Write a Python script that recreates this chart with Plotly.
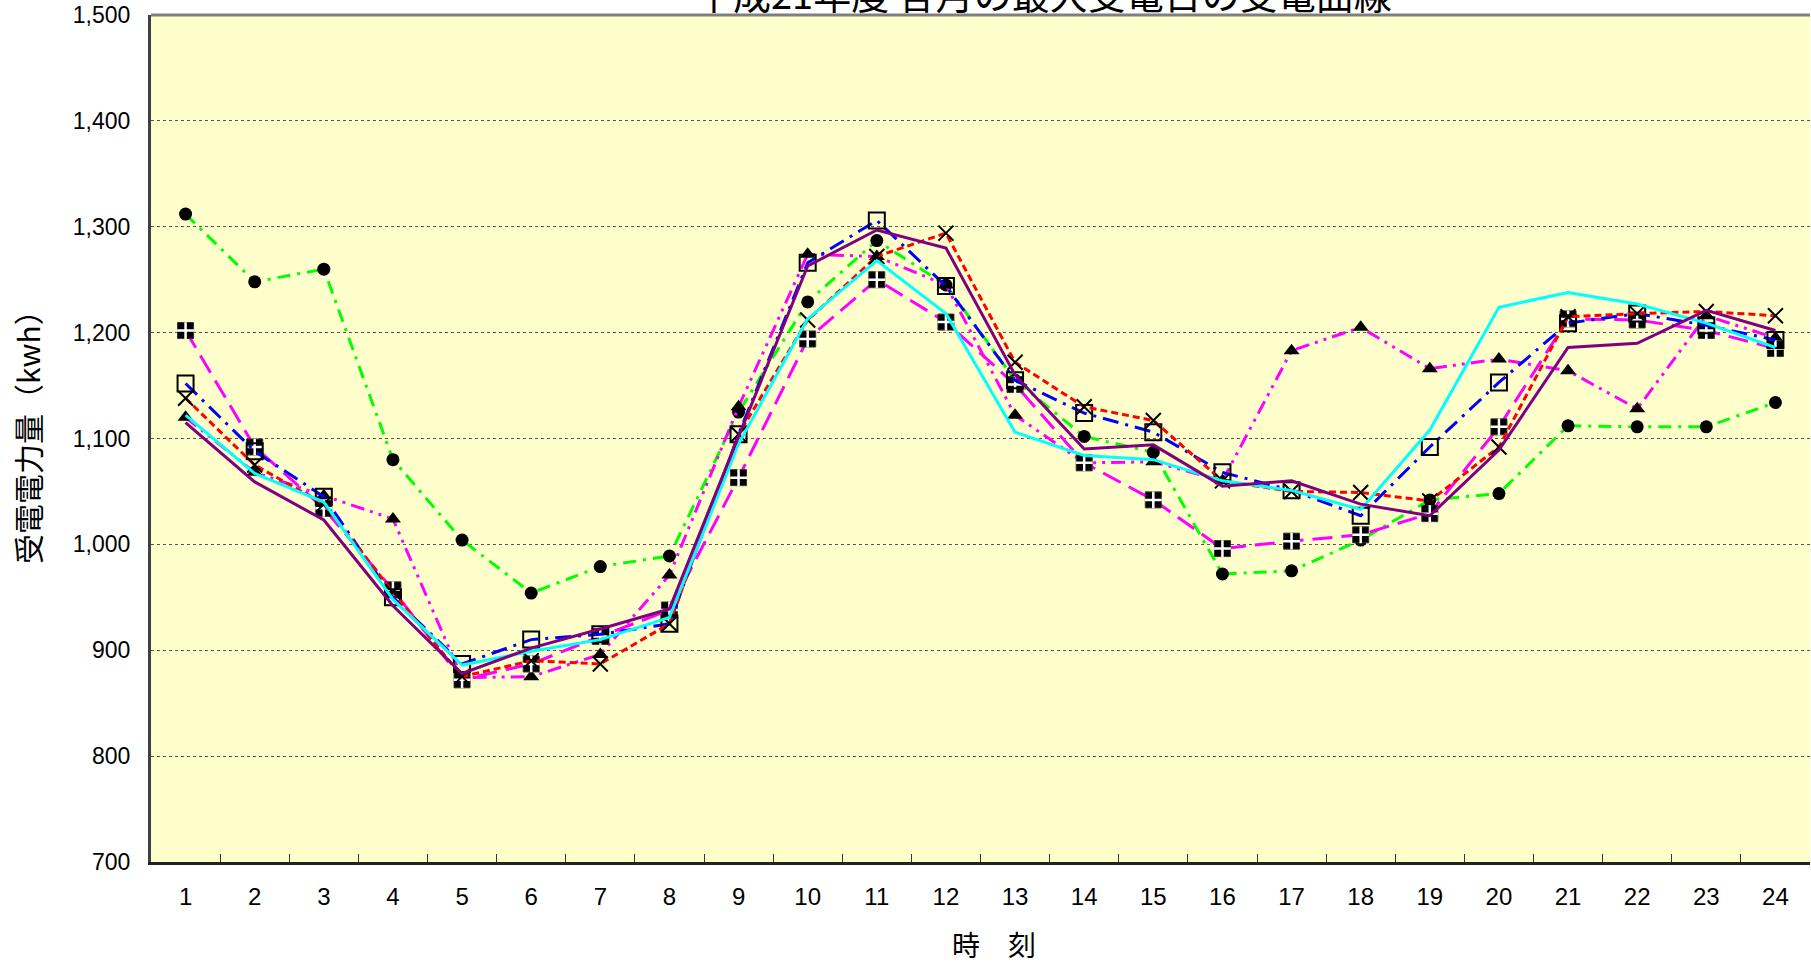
import plotly.graph_objects as go

hours = ["1", "2", "3", "4", "5", "6", "7", "8", "9", "10", "11", "12",
         "13", "14", "15", "16", "17", "18", "19", "20", "21", "22", "23", "24"]

y_tick_vals = [700, 800, 900, 1000, 1100, 1200, 1300, 1400, 1500]
y_tick_text = ["700", "800", "900", "1,000", "1,100", "1,200", "1,300", "1,400", "1,500"]

s_circle = [1312, 1248, 1260, 1080, 1004, 954, 979, 989, 1125, 1229, 1287, 1245,
            1155, 1102, 1087, 972, 975, 1004, 1042, 1048, 1112, 1111, 1111, 1134]
s_triangle = [1120, 1068, 1046, 1024, 874, 875, 896, 971, 1130, 1274, 1272, 1245,
              1122, 1077, 1078, 1060, 1183, 1205, 1166, 1175, 1164, 1128, 1216, 1195]
s_squareplus = [1202, 1092, 1034, 957, 872, 887, 913, 938, 1063, 1194, 1250, 1210,
                1151, 1077, 1042, 996, 1003, 1009, 1029, 1111, 1213, 1212, 1202, 1185]
s_square = [1152, 1088, 1045, 950, 887, 910, 915, 925, 1104, 1266, 1306, 1244,
            1155, 1124, 1106, 1068, 1051, 1027, 1092, 1153, 1209, 1218, 1207, 1193]
s_x = [1138, 1075, 1038, 955, 875, 890, 887, 925, 1104, 1212, 1272, 1294,
       1172, 1130, 1117, 1060, 1050, 1049, 1041, 1092, 1215, 1218, 1220, 1216]
s_cyan = [1122, 1067, 1040, 948, 886, 899, 910, 931, 1095, 1213, 1268, 1218,
          1106, 1084, 1080, 1060, 1051, 1033, 1108, 1224, 1238, 1227, 1209, 1186]
s_purple = [1115, 1059, 1023, 942, 878, 902, 920, 939, 1102, 1263, 1297, 1280,
            1160, 1090, 1094, 1055, 1060, 1038, 1027, 1089, 1186, 1190, 1221, 1202]

title_text = "平成21年度 各月の最大受電日の受電曲線"
y_title = "受電電力量（kwh）"
x_title = "時　刻"

FONT = "Noto Sans CJK JP"
TICKFONT = "Liberation Sans"

fig = go.Figure()

fig.add_trace(go.Scatter(
    x=hours, y=s_circle, mode="lines+markers",
    line=dict(color="#00FF00", width=3, dash="13px,7px,3px,7px"),
    marker=dict(symbol="circle", color="black", size=13)))

fig.add_trace(go.Scatter(
    x=hours, y=s_triangle, mode="lines+markers",
    line=dict(color="#FF00FF", width=3, dash="14px,6px,3px,6px,3px,6px"),
    marker=dict(symbol="triangle-up", color="black", size=14)))

fig.add_trace(go.Scatter(
    x=hours, y=s_squareplus, mode="lines+markers",
    line=dict(color="#FF00FF", width=3, dash="20px,9px"),
    marker=dict(symbol="square", color="black", size=16,
                line=dict(color="#333333", width=1))))
fig.add_trace(go.Scatter(
    x=hours, y=s_squareplus, mode="markers",
    marker=dict(symbol="cross-thin-open", color="white", size=12,
                line=dict(color="white", width=2.5))))

fig.add_trace(go.Scatter(
    x=hours, y=s_square, mode="lines+markers",
    line=dict(color="#0000FF", width=3, dash="16px,7px,3px,7px"),
    marker=dict(symbol="square-open", color="black", size=16,
                line=dict(color="black", width=2))))

fig.add_trace(go.Scatter(
    x=hours, y=s_x, mode="lines+markers",
    line=dict(color="#FF0000", width=3, dash="7px,4px"),
    marker=dict(symbol="x-thin-open", color="black", size=15,
                line=dict(color="black", width=2))))

fig.add_trace(go.Scatter(
    x=hours, y=s_cyan, mode="lines",
    line=dict(color="#00FFFF", width=3)))

fig.add_trace(go.Scatter(
    x=hours, y=s_purple, mode="lines",
    line=dict(color="#800080", width=3)))

fig.update_layout(
    width=1811, height=967,
    margin=dict(l=151, r=1, t=15, b=105, autoexpand=False),
    paper_bgcolor="white",
    plot_bgcolor="#FFFFCC",
    showlegend=False,
    font=dict(family=FONT, color="black"),
    xaxis=dict(
        type="category", range=[-0.5, 23.5], automargin=False,
        showgrid=False, zeroline=False,
        ticks="inside", tickson="boundaries", ticklen=8, tickwidth=1, tickcolor="#333333",
        showline=True, linecolor="#222222", linewidth=3,
        tickfont=dict(size=24, family=TICKFONT), ticklabelstandoff=11,
    ),
    yaxis=dict(
        range=[699.9, 1500.1], tickmode="array", automargin=False,
        tickvals=y_tick_vals, ticktext=y_tick_text,
        ticklabeloverflow="allow",
        showgrid=True, gridcolor="#555555", griddash="dot", gridwidth=1,
        zeroline=False, ticks="",
        showline=True, linecolor="#404040", linewidth=3,
        tickfont=dict(size=23, family=TICKFONT), ticklabelstandoff=13,
    ),
    shapes=[dict(type="line", xref="paper", yref="paper", x0=0, x1=1, y0=1, y1=1,
                 line=dict(color="#808080", width=3))],
    annotations=[
        dict(text=title_text, xref="paper", yref="paper", x=0.538, y=1.027,
             xanchor="center", yanchor="middle", showarrow=False,
             font=dict(size=38, family=FONT)),
        dict(text=y_title, xref="paper", yref="paper", x=-0.0747, y=0.51,
             xanchor="center", yanchor="middle", showarrow=False, textangle=-90,
             font=dict(size=30, family=FONT)),
        dict(text=x_title, xref="paper", yref="paper", x=0.508, y=-0.0968,
             xanchor="center", yanchor="middle", showarrow=False,
             font=dict(size=28, family=FONT)),
    ],
)

fig.write_html("out.html",
               config={"displayModeBar": False},
               post_script="document.body.style.margin='0';document.body.style.overflow='hidden';")
